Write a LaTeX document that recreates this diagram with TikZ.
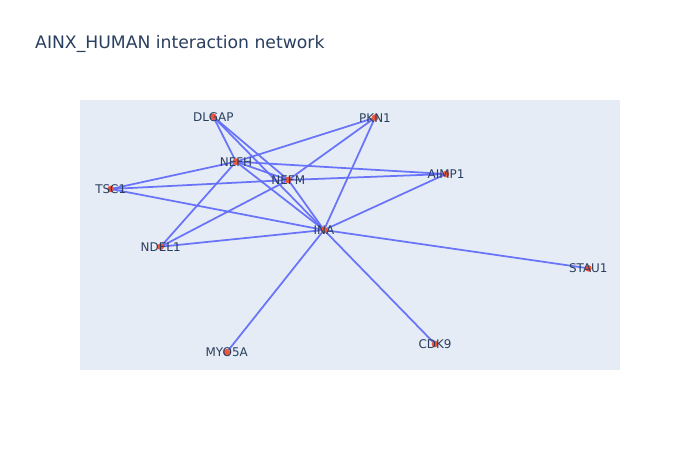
\documentclass[tikz,border=0pt]{standalone}
\usepackage{fontspec}
\setmainfont{DejaVu Sans}
\usepackage{xcolor}
\usepackage{tikz}
\usetikzlibrary{positioning}

\definecolor{plotbg}{HTML}{E5ECF6}
\definecolor{edgeblue}{HTML}{636EFA}
\definecolor{dotred}{HTML}{EF553B}
\definecolor{textblue}{HTML}{2A3F5F}

\tikzset{
  dot/.style={circle, fill=dotred, inner sep=0pt, minimum size=0.2cm},
  lbl/.style={text=textblue, font=\fontsize{10.2}{12}\selectfont, inner sep=0pt},
  link/.style={edgeblue, line width=1.5pt, opacity=0.95}
}

\begin{document}
\begin{tikzpicture}[x=0.03cm, y=-0.03cm]
\useasboundingbox (0,0) rectangle (700,450);
\fill[white] (0,0) rectangle (700,450);
\fill[plotbg] (80,100) rectangle (620,370);

\node[text=textblue, font=\fontsize{14.7}{17}\selectfont, anchor=west, inner sep=0pt](title) at (35,44) {AINX\_HUMAN interaction network};

% protein positions
\coordinate (dlgap) at (213.3,116.7);
\coordinate (pkn1) at (375,117.7);
\coordinate (nefh) at (236,161.7);
\coordinate (nefm) at (288.3,180);
\coordinate (tsc1) at (110.7,189);
\coordinate (ina) at (324,230);
\coordinate (ndel1) at (160.7,246.7);
\coordinate (aimp1) at (446,174);
\coordinate (stau1) at (588.3,268.3);
\coordinate (myo5a) at (226.7,352.3);
\coordinate (cdk9) at (435,344);

\foreach \a/\b in {dlgap/nefh, dlgap/nefm, dlgap/ina, nefh/pkn1, nefh/tsc1, nefh/ndel1,
	nefh/aimp1, nefh/nefm, nefh/ina, tsc1/nefm, nefm/aimp1, nefm/ndel1, nefm/pkn1,
	nefm/ina, tsc1/ina, ndel1/ina, pkn1/ina, aimp1/ina, stau1/ina, myo5a/ina, cdk9/ina}
	\draw[link] (\a) -- (\b);

\foreach \p/\t in {dlgap/DLGAP, pkn1/PKN1, nefh/NEFH, nefm/NEFM, tsc1/TSC1, ina/INA,
	ndel1/NDEL1, aimp1/AIMP1, stau1/STAU1, myo5a/MYO5A, cdk9/CDK9}
	{\node[dot](\p-d) at (\p) {};
	\node[lbl](\p-l) at (\p) {\t};}
\end{tikzpicture}
\end{document}
